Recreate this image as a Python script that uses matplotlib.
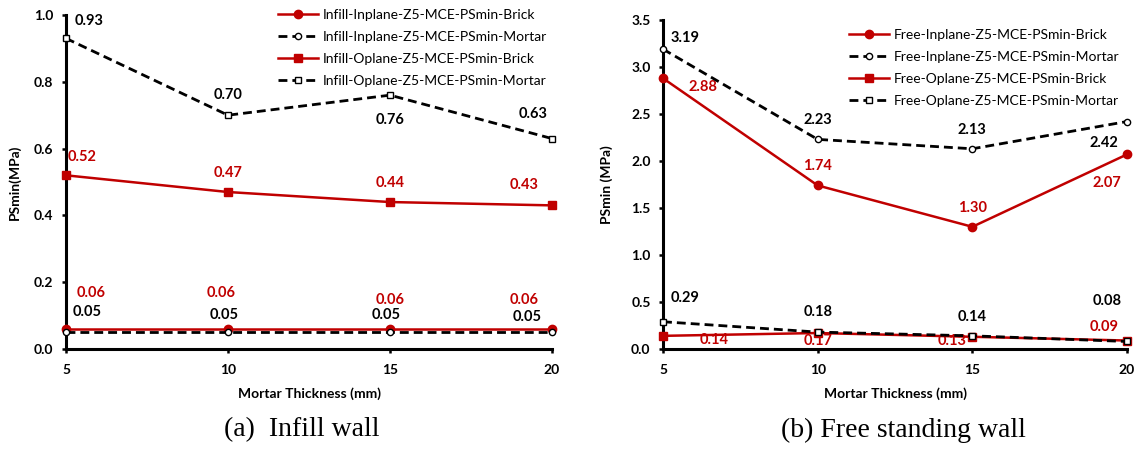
import matplotlib.pyplot as plt

# datos
espesor = [5, 10, 15, 20]

infill_in_brick = [0.06, 0.06, 0.06, 0.06]
infill_in_mortar = [0.05, 0.05, 0.05, 0.05]
infill_op_brick = [0.52, 0.47, 0.44, 0.43]
infill_op_mortar = [0.93, 0.70, 0.76, 0.63]

free_in_brick = [2.88, 1.74, 1.30, 2.07]
free_in_mortar = [3.19, 2.23, 2.13, 2.42]
free_op_brick = [0.14, 0.17, 0.13, 0.09]
free_op_mortar = [0.29, 0.18, 0.14, 0.08]

nombres_infill = ["Infill-Inplane-Z5-MCE-PSmin-Brick", "Infill-Inplane-Z5-MCE-PSmin-Mortar",
                  "Infill-Oplane-Z5-MCE-PSmin-Brick", "Infill-Oplane-Z5-MCE-PSmin-Mortar"]
nombres_free = ["Free-Inplane-Z5-MCE-PSmin-Brick", "Free-Inplane-Z5-MCE-PSmin-Mortar",
                "Free-Oplane-Z5-MCE-PSmin-Brick", "Free-Oplane-Z5-MCE-PSmin-Mortar"]

ROJO = "#C00000"
W, H = 1135, 450
plt.rcParams['font.family'] = ['Lato', 'DejaVu Sans']

fig = plt.figure(figsize=(W / 100, H / 100), dpi=100)
ax1 = fig.add_axes([66 / W, 101 / H, 486 / W, 334 / H])
ax2 = fig.add_axes([663 / W, 101 / H, 464 / W, 329 / H])

estilos = [
    dict(color=ROJO, ls='-', marker='o', mfc=ROJO, mec=ROJO, ms=6),
    dict(color='black', ls='--', marker='o', mfc='white', mec='black', ms=4.5),
    dict(color=ROJO, ls='-', marker='s', mfc=ROJO, mec=ROJO, ms=6),
    dict(color='black', ls='--', marker='s', mfc='white', mec='black', ms=4.5),
]


def dibujar(ax, series, etiquetas, offsets, ymax, ystep):
    for valores, nombre, est, offs in zip(series, etiquetas, estilos, offsets):
        discontinua = est['ls'] == '--'
        ax.plot(espesor, valores, lw=2.0 if discontinua else 1.8, mew=1, label=nombre,
                clip_on=False, zorder=3, color=est['color'], marker=est['marker'],
                mfc=est['mfc'], mec=est['mec'], ms=est['ms'],
                dashes=(3.2, 1.8) if discontinua else (None, None))
        for x, y, (dx, dy) in zip(espesor, valores, offs):
            # offsets en pixeles -> puntos
            ax.annotate(f"{y:.2f}", (x, y), xytext=(dx * 0.72, dy * 0.72),
                        textcoords='offset points', ha='center', va='center',
                        fontsize=10.5, fontweight='bold', color=est['color'])
    ax.set_xlim(5, 20)
    ax.set_ylim(0, ymax)
    ax.set_xticks(espesor)
    yt = [round(i * ystep, 2) for i in range(int(round(ymax / ystep)) + 1)]
    ax.set_yticks(yt)
    ax.set_yticklabels([f"{v:.1f}" for v in yt])
    for s in ['top', 'right']:
        ax.spines[s].set_visible(False)
    for s in ['left', 'bottom']:
        ax.spines[s].set_linewidth(2.2)
    ax.tick_params(axis='both', width=1.8, length=3, labelsize=10)
    ax.tick_params(axis='x', pad=8)
    ax.tick_params(axis='y', pad=6)
    for t in ax.get_xticklabels() + ax.get_yticklabels():
        t.set_fontweight('bold')
    ax.set_xlabel("Mortar Thickness (mm)", fontsize=10, fontweight='bold', labelpad=8)


def leyenda(ax, x_px, y_px):
    ax.legend(loc='upper left', bbox_to_anchor=(x_px / W, 1 - y_px / H),
              bbox_transform=fig.transFigure, frameon=False, fontsize=10,
              borderpad=0, borderaxespad=0, handlelength=2.9, handletextpad=0.3,
              labelspacing=0.72)


off_izq = [
    [(25, 36), (-7, 36), (0, 29), (-28, 29)],
    [(21, 20), (-4, 17), (-4, 17), (-25, 15)],
    [(16, 18), (0, 19), (0, 19), (-28, 20)],
    [(23, 17), (0, 20), (0, -25), (-19, 25)],
]
dibujar(ax1, [infill_in_brick, infill_in_mortar, infill_op_brick, infill_op_mortar],
        nombres_infill, off_izq, 1.0, 0.2)
ax1.set_ylabel("PSmin(MPa)", fontsize=10, fontweight='bold')
ax1.yaxis.set_label_coords(-45 / 486, 0.5)
leyenda(ax1, 278, 9)

off_der = [
    [(40, -9), (0, 19), (0, 19), (-20, -29)],
    [(22, 11), (0, 19), (0, 19), (-23, -21)],
    [(51, -4), (0, -8), (-20, -4), (-23, 14)],
    [(22, 24), (0, 20), (0, 19), (-20, 40)],
]
dibujar(ax2, [free_in_brick, free_in_mortar, free_op_brick, free_op_mortar],
        nombres_free, off_der, 3.5, 0.5)
ax2.set_ylabel("PSmin (MPa)", fontsize=10, fontweight='bold')
ax2.yaxis.set_label_coords(-50 / 464, 0.5)
leyenda(ax2, 849, 29)

fig.text(302 / W, 1 - 430 / H, "(a)  Infill wall", ha='center', va='center',
         fontsize=20, family='Liberation Serif')
fig.text(903 / W, 1 - 430 / H, "(b) Free standing wall", ha='center', va='center',
         fontsize=20, family='Liberation Serif')

fig.savefig("out.png", dpi=100)
